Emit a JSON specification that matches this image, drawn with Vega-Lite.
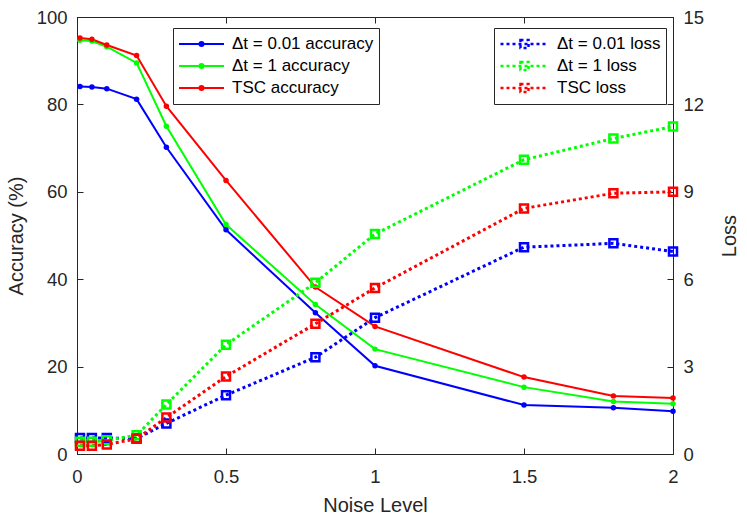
{
  "$schema": "https://vega.github.io/schema/vega-lite/v6.json",
  "description": "Accuracy and loss against noise level",
  "width": 596,
  "height": 437,
  "autosize": "none",
  "padding": {"left": 77, "top": 17, "right": 74, "bottom": 68},
  "datasets": {
    "accuracy": [
      {"noise": 0.01, "series": "Δt = 0.01 accuracy", "value": 84.1},
      {"noise": 0.05, "series": "Δt = 0.01 accuracy", "value": 84.0},
      {"noise": 0.1, "series": "Δt = 0.01 accuracy", "value": 83.6},
      {"noise": 0.2, "series": "Δt = 0.01 accuracy", "value": 81.2},
      {"noise": 0.3, "series": "Δt = 0.01 accuracy", "value": 70.2},
      {"noise": 0.5, "series": "Δt = 0.01 accuracy", "value": 51.3},
      {"noise": 0.8, "series": "Δt = 0.01 accuracy", "value": 32.3},
      {"noise": 1, "series": "Δt = 0.01 accuracy", "value": 20.2},
      {"noise": 1.5, "series": "Δt = 0.01 accuracy", "value": 11.2},
      {"noise": 1.8, "series": "Δt = 0.01 accuracy", "value": 10.6},
      {"noise": 2, "series": "Δt = 0.01 accuracy", "value": 9.8},
      {"noise": 0.01, "series": "Δt = 1 accuracy", "value": 94.7},
      {"noise": 0.05, "series": "Δt = 1 accuracy", "value": 94.5},
      {"noise": 0.1, "series": "Δt = 1 accuracy", "value": 93.2},
      {"noise": 0.2, "series": "Δt = 1 accuracy", "value": 89.5},
      {"noise": 0.3, "series": "Δt = 1 accuracy", "value": 75.0},
      {"noise": 0.5, "series": "Δt = 1 accuracy", "value": 52.5},
      {"noise": 0.8, "series": "Δt = 1 accuracy", "value": 34.2},
      {"noise": 1, "series": "Δt = 1 accuracy", "value": 24.0},
      {"noise": 1.5, "series": "Δt = 1 accuracy", "value": 15.3},
      {"noise": 1.8, "series": "Δt = 1 accuracy", "value": 12.0},
      {"noise": 2, "series": "Δt = 1 accuracy", "value": 11.5},
      {"noise": 0.01, "series": "TSC accuracy", "value": 95.2},
      {"noise": 0.05, "series": "TSC accuracy", "value": 94.9},
      {"noise": 0.1, "series": "TSC accuracy", "value": 93.6},
      {"noise": 0.2, "series": "TSC accuracy", "value": 91.2},
      {"noise": 0.3, "series": "TSC accuracy", "value": 79.6},
      {"noise": 0.5, "series": "TSC accuracy", "value": 62.6},
      {"noise": 0.8, "series": "TSC accuracy", "value": 38.2},
      {"noise": 1, "series": "TSC accuracy", "value": 29.2},
      {"noise": 1.5, "series": "TSC accuracy", "value": 17.6},
      {"noise": 1.8, "series": "TSC accuracy", "value": 13.3},
      {"noise": 2, "series": "TSC accuracy", "value": 12.8}
    ],
    "loss": [
      {"noise": 0.01, "series": "Δt = 0.01 loss", "value": 0.55},
      {"noise": 0.05, "series": "Δt = 0.01 loss", "value": 0.55},
      {"noise": 0.1, "series": "Δt = 0.01 loss", "value": 0.55},
      {"noise": 0.2, "series": "Δt = 0.01 loss", "value": 0.53},
      {"noise": 0.3, "series": "Δt = 0.01 loss", "value": 1.05},
      {"noise": 0.5, "series": "Δt = 0.01 loss", "value": 2.02},
      {"noise": 0.8, "series": "Δt = 0.01 loss", "value": 3.32},
      {"noise": 1, "series": "Δt = 0.01 loss", "value": 4.68},
      {"noise": 1.5, "series": "Δt = 0.01 loss", "value": 7.1},
      {"noise": 1.8, "series": "Δt = 0.01 loss", "value": 7.23},
      {"noise": 2, "series": "Δt = 0.01 loss", "value": 6.95},
      {"noise": 0.01, "series": "Δt = 1 loss", "value": 0.42},
      {"noise": 0.05, "series": "Δt = 1 loss", "value": 0.42},
      {"noise": 0.1, "series": "Δt = 1 loss", "value": 0.47},
      {"noise": 0.2, "series": "Δt = 1 loss", "value": 0.64},
      {"noise": 0.3, "series": "Δt = 1 loss", "value": 1.7},
      {"noise": 0.5, "series": "Δt = 1 loss", "value": 3.75},
      {"noise": 0.8, "series": "Δt = 1 loss", "value": 5.88},
      {"noise": 1, "series": "Δt = 1 loss", "value": 7.55},
      {"noise": 1.5, "series": "Δt = 1 loss", "value": 10.1},
      {"noise": 1.8, "series": "Δt = 1 loss", "value": 10.83},
      {"noise": 2, "series": "Δt = 1 loss", "value": 11.24},
      {"noise": 0.01, "series": "TSC loss", "value": 0.28},
      {"noise": 0.05, "series": "TSC loss", "value": 0.28},
      {"noise": 0.1, "series": "TSC loss", "value": 0.33},
      {"noise": 0.2, "series": "TSC loss", "value": 0.52},
      {"noise": 0.3, "series": "TSC loss", "value": 1.25},
      {"noise": 0.5, "series": "TSC loss", "value": 2.66},
      {"noise": 0.8, "series": "TSC loss", "value": 4.47},
      {"noise": 1, "series": "TSC loss", "value": 5.7},
      {"noise": 1.5, "series": "TSC loss", "value": 8.43},
      {"noise": 1.8, "series": "TSC loss", "value": 8.95},
      {"noise": 2, "series": "TSC loss", "value": 9.0}
    ]
  },
  "layer": [
    {
      "data": {"name": "accuracy"},
      "mark": {"type": "line", "strokeWidth": 2, "point": {"filled": true, "size": 30, "opacity": 1}},
      "encoding": {
        "x": {
          "field": "noise", "type": "quantitative",
          "scale": {"domain": [0, 2], "nice": false},
          "axis": {"orient": "bottom", "title": "Noise Level", "values": [0, 0.5, 1, 1.5, 2], "format": "~g", "labelFlush": false, "labelPadding": 19, "titlePadding": 10}
        },
        "y": {
          "field": "value", "type": "quantitative",
          "scale": {"domain": [0, 100], "nice": false},
          "axis": {"orient": "left", "title": "Accuracy (%)", "values": [0, 20, 40, 60, 80, 100], "labelPadding": 16, "titlePadding": 10}
        },
        "color": {
          "field": "series", "type": "nominal",
          "scale": {"domain": ["Δt = 0.01 accuracy", "Δt = 1 accuracy", "TSC accuracy"], "range": ["#0000ff", "#00ff00", "#ff0000"]},
          "legend": {
            "title": null, "orient": "none", "legendX": 96, "legendY": 11,
            "symbolType": "M-1,0H1M0.089,0A0.089,0.089,0,1,1,-0.089,0A0.089,0.089,0,1,1,0.089,0",
            "symbolSize": 2025, "symbolStrokeWidth": 2
          }
        }
      }
    },
    {
      "data": {"name": "loss"},
      "mark": {"type": "line", "strokeWidth": 3, "strokeDash": [3, 3], "point": {"shape": "square", "filled": false, "size": 64, "strokeWidth": 2.5, "opacity": 1}},
      "encoding": {
        "x": {
          "field": "noise", "type": "quantitative",
          "axis": {"orient": "top", "title": null, "values": [0, 0.5, 1, 1.5, 2], "labels": false}
        },
        "y": {
          "field": "value", "type": "quantitative",
          "scale": {"domain": [0, 15], "nice": false},
          "axis": {"orient": "right", "title": "Loss", "titleAngle": 270, "values": [0, 3, 6, 9, 12, 15], "labelPadding": 16, "titlePadding": 36}
        },
        "color": {
          "field": "series", "type": "nominal",
          "scale": {"domain": ["Δt = 0.01 loss", "Δt = 1 loss", "TSC loss"], "range": ["#0000ff", "#00ff00", "#ff0000"]},
          "legend": {
            "title": null, "orient": "none", "legendX": 417, "legendY": 11,
            "symbolType": "M-1,0H1M-0.167,-0.167H0.167V0.167H-0.167Z",
            "symbolSize": 2304, "symbolStrokeWidth": 2.5, "symbolDash": [3, 3]
          }
        }
      }
    }
  ],
  "resolve": {
    "scale": {"y": "independent", "color": "independent"},
    "axis": {"x": "independent"}
  },
  "config": {
    "view": {"stroke": "#262626", "strokeWidth": 1},
    "font": "Liberation Sans",
    "axis": {
      "grid": false,
      "domainColor": "#262626",
      "tickColor": "#262626",
      "labelColor": "#262626",
      "titleColor": "#262626",
      "labelFont": "Liberation Sans",
      "titleFont": "Liberation Sans",
      "labelFontSize": 18.5,
      "titleFontSize": 20,
      "titleFontWeight": "normal",
      "tickSize": -6,
      "tickWidth": 1,
      "domainWidth": 1
    },
    "legend": {
      "labelFont": "Liberation Sans",
      "labelFontSize": 17,
      "labelColor": "#000000",
      "labelLimit": 300,
      "strokeColor": "#262626",
      "fillColor": "#ffffff",
      "padding": 5,
      "rowPadding": 0,
      "clipHeight": 22,
      "labelOffset": 7,
      "symbolOffset": 0
    }
  }
}
